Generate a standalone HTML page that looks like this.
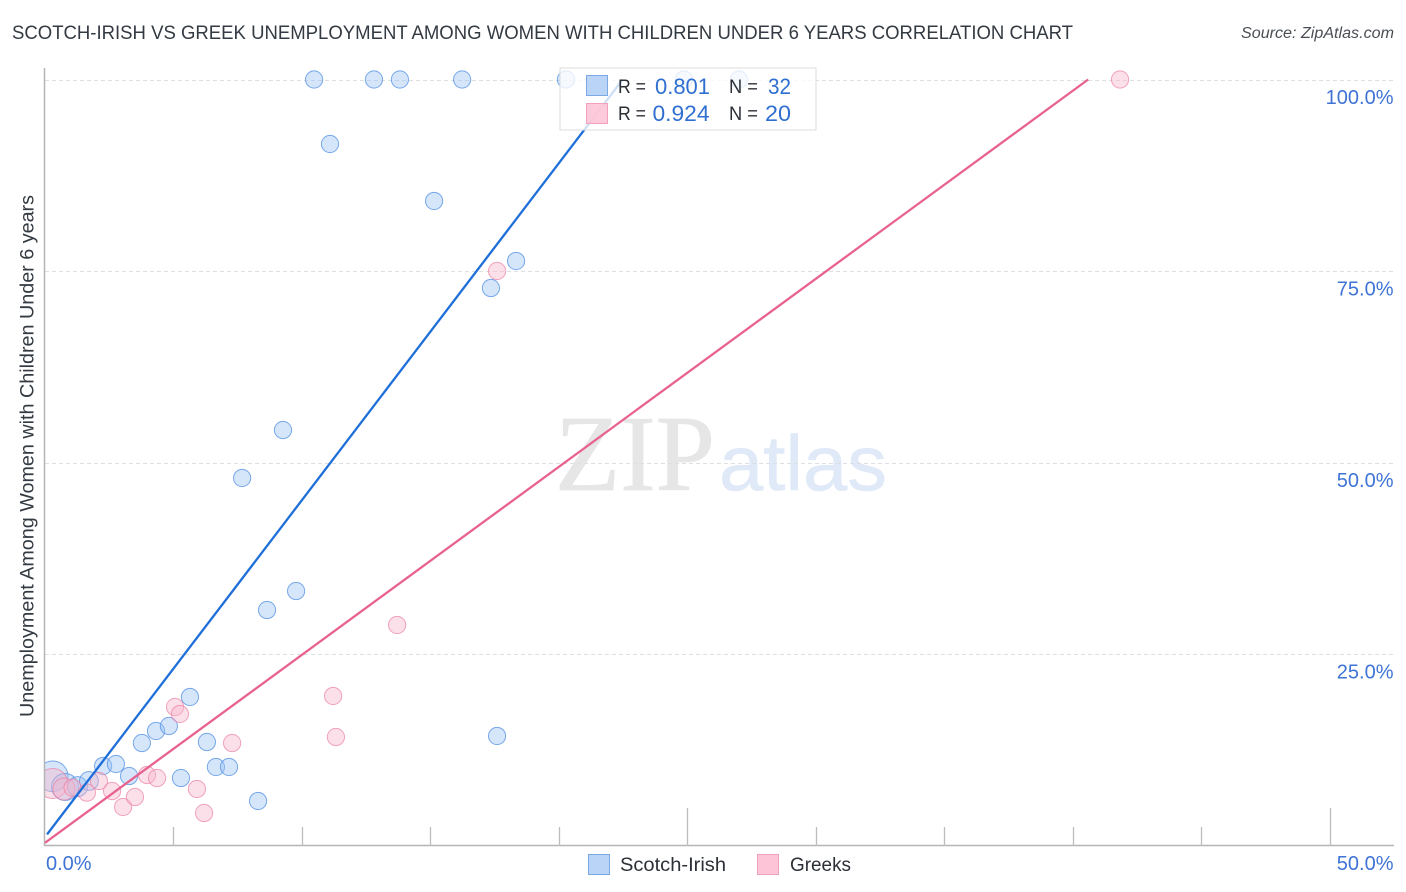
<!DOCTYPE html>
<html lang="en">
<head>
<meta charset="utf-8">
<title>Scotch-Irish vs Greek Unemployment Correlation Chart</title>
<style>
html,body{margin:0;padding:0;background:#fff;width:1406px;height:892px;overflow:hidden}
svg{display:block}
text{font-family:"Liberation Sans",sans-serif}
</style>
</head>
<body>
<svg id="chart" width="1406" height="892" viewBox="0 0 1406 892" xmlns="http://www.w3.org/2000/svg">
  <defs>
    <clipPath id="plot-clip"><rect x="45" y="60" width="1349" height="786"/></clipPath>
  </defs>
  <rect x="0" y="0" width="1406" height="892" fill="#ffffff"/>
  <text x="12" y="39" font-size="19" fill="#333a42" textLength="1061" lengthAdjust="spacingAndGlyphs">SCOTCH-IRISH VS GREEK UNEMPLOYMENT AMONG WOMEN WITH CHILDREN UNDER 6 YEARS CORRELATION CHART</text>
  <text x="1241" y="38" font-size="15.5" font-style="italic" fill="#4a4f55" textLength="153" lengthAdjust="spacingAndGlyphs">Source: ZipAtlas.com</text>
  <g>
    <text x="555" y="490" font-size="108" fill="#e6e6e6" stroke="#e6e6e6" stroke-width="0.8" textLength="160" lengthAdjust="spacingAndGlyphs" style="font-family:'Liberation Serif',serif">ZIP</text>
    <text x="719" y="490" font-size="78" fill="#dfe9f8" stroke="#dfe9f8" stroke-width="0.6" textLength="168" lengthAdjust="spacingAndGlyphs">atlas</text>
  </g>
  <g id="grid"></g>
  <g id="points-scotch-irish" clip-path="url(#plot-clip)"></g>
  <g id="points-greeks" clip-path="url(#plot-clip)"></g>
  <g id="axes"></g>
  <text transform="translate(33.5,456) rotate(-90)" text-anchor="middle" font-size="19" fill="#333a42" textLength="522" lengthAdjust="spacingAndGlyphs">Unemployment Among Women with Children Under 6 years</text>
  <g id="trend-lines"></g>
  <g>
    <rect x="560" y="68" width="256" height="62" fill="#ffffff" fill-opacity="0.78" stroke="#dcdcdc" stroke-width="1"/>
    <rect x="586.5" y="75.5" width="21" height="20" fill="#b9d4f7" stroke="#79a8e4" stroke-width="1"/>
    <rect x="586.5" y="103.5" width="21" height="20" fill="#fcc4d6" fill-opacity="0.9" stroke="#f2a0bb" stroke-width="1"/>
    <text x="618" y="93" font-size="19" fill="#2b2f36" textLength="28" lengthAdjust="spacingAndGlyphs">R =</text>
    <text x="655" y="94" font-size="22" fill="#2f6fd0" textLength="55" lengthAdjust="spacingAndGlyphs">0.801</text>
    <text x="729" y="93" font-size="19" fill="#2b2f36" textLength="29" lengthAdjust="spacingAndGlyphs">N =</text>
    <text x="768" y="94" font-size="22" fill="#2f6fd0" textLength="23" lengthAdjust="spacingAndGlyphs">32</text>
    <text x="618" y="120" font-size="19" fill="#2b2f36" textLength="28" lengthAdjust="spacingAndGlyphs">R =</text>
    <text x="652.5" y="121" font-size="22" fill="#2f6fd0" textLength="57" lengthAdjust="spacingAndGlyphs">0.924</text>
    <text x="729" y="120" font-size="19" fill="#2b2f36" textLength="29" lengthAdjust="spacingAndGlyphs">N =</text>
    <text x="765" y="121" font-size="22" fill="#2f6fd0" textLength="26" lengthAdjust="spacingAndGlyphs">20</text>
  </g>
  <g>
    <rect x="588.5" y="854.5" width="21" height="20" fill="#b9d4f7" stroke="#79a8e4" stroke-width="1"/>
    <text x="620" y="871" font-size="19.5" fill="#2b2f36" textLength="106" lengthAdjust="spacingAndGlyphs">Scotch-Irish</text>
    <rect x="757.5" y="854.5" width="21" height="20" fill="#fcc4d6" stroke="#f2a0bb" stroke-width="1"/>
    <text x="790" y="871" font-size="19.5" fill="#2b2f36" textLength="61" lengthAdjust="spacingAndGlyphs">Greeks</text>
  </g>
</svg>
<script>
const yTickValues = [25, 50, 75, 100];
const yTickLabels = ["25.0%", "50.0%", "75.0%", "100.0%"];
const xTickValues = [0, 5, 10, 15, 20, 25, 30, 35, 40, 45, 50];
const xEndLabels = ["0.0%", "50.0%"];
const xEndValues = [0, 50];
const xMajorTicks = [25, 50];

const scotchIrishX = [0.30,0.78,1.27,1.71,2.26,2.76,3.27,3.77,4.32,4.82,5.29,5.64,6.30,6.65,7.16,8.29,8.64,9.26,9.77,7.67,11.09,10.47,12.80,13.81,15.14,16.23,17.35,18.33,17.59,20.27,24.86,27.00];
const scotchIrishY = [9.04,7.64,7.68,8.42,10.38,10.64,9.07,13.38,14.95,15.60,8.81,19.39,13.51,10.25,10.25,5.81,30.74,54.24,33.22,47.98,91.58,100,100,100,84.14,100,72.78,76.31,14.30,100,100,100];
const scotchIrishWeight = [3.17,2.46,1.35,1.2,1,1,1,1,1,1,1,1,1,1,1,1,1,1,1,1,1,1,1,1,1,1,1,1,1,1,1,1];

const greeksX = [0.30,0.74,1.07,1.63,2.10,2.61,3.04,3.50,3.97,4.36,5.06,5.25,5.91,6.19,7.28,11.21,11.32,13.70,17.59,41.83];
const greeksY = [8.10,7.38,7.55,6.90,8.42,7.11,5.03,6.33,9.20,8.81,18.08,17.17,7.38,4.24,13.38,19.52,14.16,28.79,75.00,100];
const greeksWeight = [3.04,1.64,1,1,1,1,1,1,1,1,1,1,1,1,1,1,1,1,1,1];

const scotchIrishTrend = [1.1, 4.4];
const greeksTrend = [0.35, 2.455];

const NS = "http://www.w3.org/2000/svg";
const xScale = v => 45 + v * 25.7;
const yScale = v => 845.5 - v * 7.66;
const radius = w => 8.6 * Math.sqrt(w);

function make(tag, attrs, parent) {
  const el = document.createElementNS(NS, tag);
  Object.keys(attrs).forEach(k => el.setAttribute(k, attrs[k]));
  parent.appendChild(el);
  return el;
}

const grid = document.getElementById("grid");
const axes = document.getElementById("axes");

yTickValues.forEach((v, i) => {
  const y = Math.round(yScale(v)) + 0.5;
  const line = make("line", {x1: 45, x2: 1394, y1: y, y2: y, stroke: "#dcdfe3", "stroke-width": 1, "stroke-dasharray": "4 3"}, grid);
  
  
  const label = make("text", {x: 1393.5, y: yScale(v) + 24.5, "text-anchor": "end", "font-size": 20, fill: "#3f74d6"}, axes);
  
  
  label.textContent = yTickLabels[i];
});

const yAxis = make("line", {x1: 44.5, x2: 44.5, y1: 68, y2: 846, stroke: "#b5b5b5", "stroke-width": 1.5}, axes);


const xAxis = make("line", {x1: 44, x2: 1394, y1: 845.5, y2: 845.5, stroke: "#b5b5b5", "stroke-width": 1.5}, axes);



xTickValues.slice(1).forEach(v => {
  const x = Math.floor(xScale(v)) + 0.5;
  const top = xMajorTicks.includes(v) ? 808 : 827;
  const tick = make("line", {x1: x, x2: x, y1: top, y2: 846, stroke: "#bdbdbd", "stroke-width": 1.3}, axes);
  
  
});

xEndValues.forEach((v, i) => {
  const label = make("text", {x: i === 0 ? xScale(v) + 1 : xScale(v) + 63.5, y: 870, "text-anchor": i === 0 ? "start" : "end", "font-size": 20, fill: "#3f74d6"}, axes);
  
  
  label.textContent = xEndLabels[i];
});

const blueGroup = document.getElementById("points-scotch-irish");
scotchIrishX.forEach((v, i) => {
  const c = make("circle", {cx: xScale(v), cy: yScale(scotchIrishY[i]), r: radius(scotchIrishWeight[i]), fill: "#9cc2f3", "fill-opacity": 0.42, stroke: "#4f8fe3", "stroke-opacity": 0.75, "stroke-width": 1}, blueGroup);
  
  
});

const pinkGroup = document.getElementById("points-greeks");
greeksX.forEach((v, i) => {
  const c = make("circle", {cx: xScale(v), cy: yScale(greeksY[i]), r: radius(greeksWeight[i]), fill: "#f9b4cb", "fill-opacity": 0.42, stroke: "#ec86a8", "stroke-opacity": 0.75, "stroke-width": 1}, pinkGroup);
  
  
});

const trendGroup = document.getElementById("trend-lines");
const blueEnd = (100 - scotchIrishTrend[0]) / scotchIrishTrend[1];
const blueLine = make("line", {x1: xScale(0.08), y1: yScale(scotchIrishTrend[0] + 0.08 * scotchIrishTrend[1]), x2: xScale(blueEnd), y2: yScale(100), stroke: "#1f6fd8", "stroke-width": 2.3}, trendGroup);


const pinkEnd = (100 - greeksTrend[0]) / greeksTrend[1];
const pinkLine = make("line", {x1: xScale(0), y1: yScale(greeksTrend[0]), x2: xScale(pinkEnd), y2: yScale(100), stroke: "#e8628f", "stroke-width": 2.3}, trendGroup);


</script>
</body>
</html>
